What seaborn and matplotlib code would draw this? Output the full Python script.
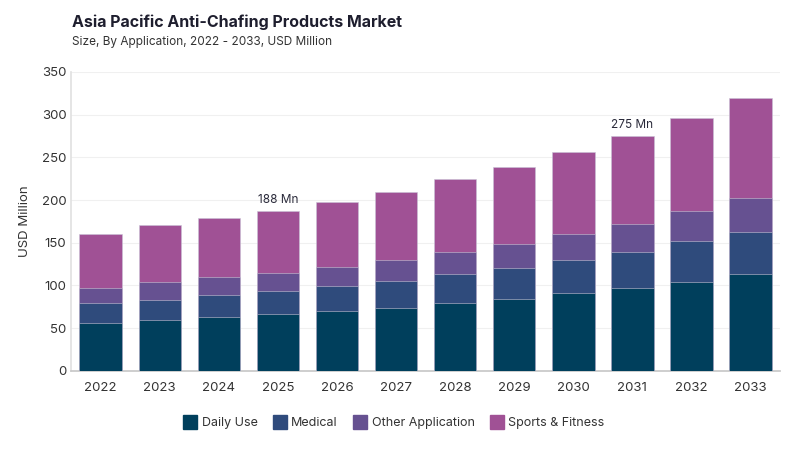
import numpy as np
import pandas as pd
import seaborn as sns
import matplotlib.pyplot as plt
from matplotlib.lines import Line2D

years = ["2022", "2023", "2024", "2025", "2026", "2027",
         "2028", "2029", "2030", "2031", "2032", "2033"]
daily_use = [56, 59, 63, 66, 69.5, 74, 79, 84, 91, 97.5, 104.5, 113]
medical = [23, 24.5, 25.5, 27, 29.5, 31, 34.5, 37, 39, 42, 47, 50]
other_app = [18, 20.5, 21.5, 22, 23, 25, 25.5, 28, 30.5, 33, 35.5, 39]
sports = [63.5, 66.5, 68.5, 72.5, 76, 80, 85.5, 90, 95.5, 102.5, 109, 117.5]

labels = ["Daily Use", "Medical", "Other Application", "Sports & Fitness"]
colors = ["#003f5c", "#2f4b7c", "#665191", "#a05195"]
callouts = {"2025": "188 Mn", "2031": "275 Mn"}

sns.set_theme(style="white")
plt.rcParams["font.family"] = ["Inter", "DejaVu Sans"]

df = pd.DataFrame({"year": years, "Daily Use": daily_use, "Medical": medical,
                   "Other Application": other_app, "Sports & Fitness": sports})
cum = df[labels].cumsum(axis=1)

fig = plt.figure(figsize=(8, 4.5), dpi=100)
ax = fig.add_axes([0.089, 0.176, 0.886, 0.664])

# draw cumulative totals, tallest first, so lower segments sit on top
for lab, col in reversed(list(zip(labels, colors))):
    sns.barplot(x=df["year"], y=cum[lab], color=col, width=0.72, saturation=1,
                edgecolor="#c9c3d6", linewidth=0.4, ax=ax, zorder=3)

for yr, txt in callouts.items():
    i = years.index(yr)
    ax.text(i, cum["Sports & Fitness"][i] + 6, txt, ha="center", va="bottom",
            fontsize=8.5, color="#2b2b3b", zorder=4)

ax.set_ylim(0, 350)
ax.set_xlim(-0.5, 11.5)
ax.set_yticks(range(0, 351, 50))
ax.yaxis.grid(True, color="#f0f0f0", linewidth=0.8, zorder=0)
ax.set_axisbelow(True)
ax.set_xlabel("")
ax.set_ylabel("USD Million", fontsize=9.5, color="#333333", labelpad=8)
ax.tick_params(axis="both", labelsize=9.5, colors="#333333", length=0)
ax.tick_params(axis="x", pad=8)
for s in ["top", "right"]:
    ax.spines[s].set_visible(False)
ax.spines["left"].set_color("#e2e2e2")
ax.spines["bottom"].set_color("#c8c8c8")

fig.text(0.09, 0.95, "Asia Pacific Anti-Chafing Products Market", fontsize=11.5,
         fontweight="bold", color="#1e1e2e", va="center")
fig.text(0.09, 0.907, "Size, By Application, 2022 - 2033, USD Million", fontsize=8.5,
         color="#333333", va="center")

handles = [Line2D([0], [0], marker="s", linestyle="", markersize=10,
                  markerfacecolor=c, markeredgecolor=c) for c in colors]
fig.legend(handles, labels, loc="center", bbox_to_anchor=(0.493, 0.06), ncol=4,
           frameon=False, fontsize=9, handlelength=1.0, handletextpad=0.4,
           columnspacing=1.3, labelcolor="#333333")

fig.savefig("out.png", dpi=100)
